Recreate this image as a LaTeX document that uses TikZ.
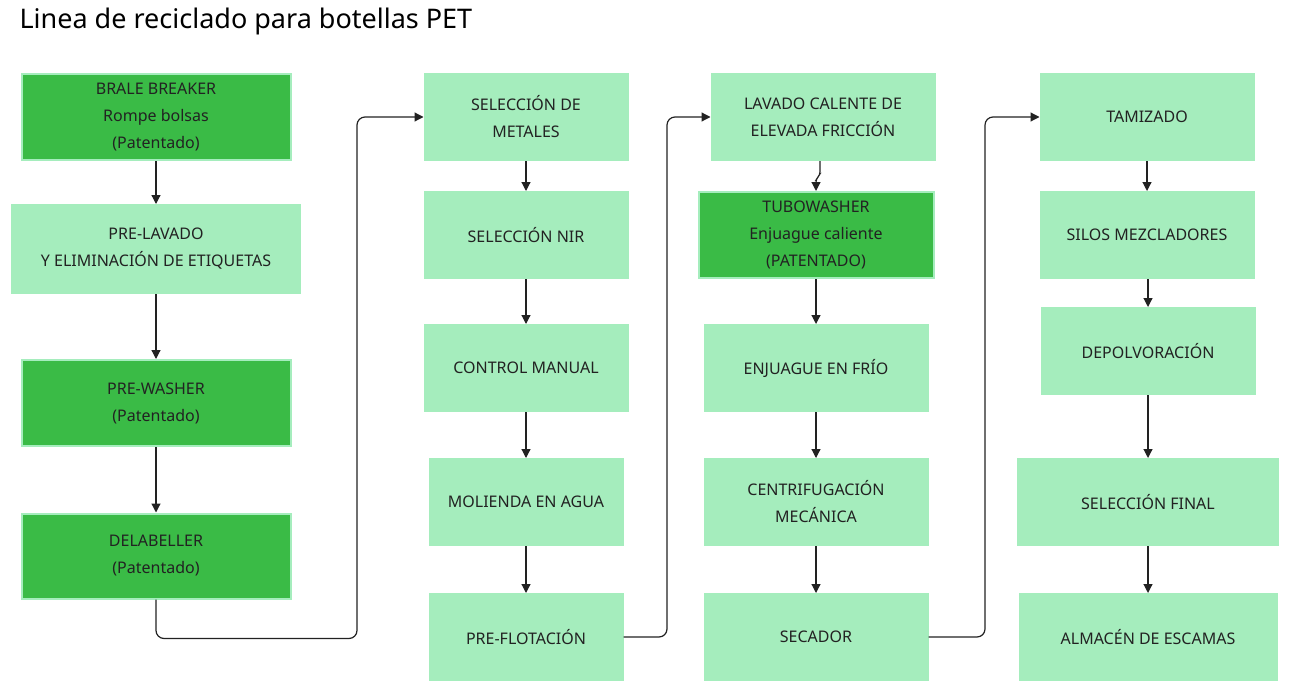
\documentclass[tikz,border=0pt]{standalone}
\usepackage{fontspec}
\setmainfont{Noto Sans}
\usetikzlibrary{positioning,arrows.meta}
\definecolor{lightg}{HTML}{A5EDBD}
\definecolor{darkg}{HTML}{3ABB46}
\definecolor{txt}{HTML}{222222}
\begin{document}
\begin{tikzpicture}[x=1pt,y=-1pt,
		light/.style={draw=lightg,fill=lightg,line width=2pt,inner sep=0pt,align=center,text=txt,font=\fontsize{16}{27}\selectfont},
		dark/.style={light,fill=darkg},
		link/.style={draw=txt,line width=1.2pt,-{Triangle[length=9pt,width=9pt]},rounded corners=8pt}]
	\useasboundingbox (0,0) rectangle (1290,690);
	\node[anchor=north west,font=\bfseries\fontsize{27}{30}\selectfont,text=black] (title) at (16,4) {Linea de reciclado para botellas PET};
	% columna 1
	\node[dark,minimum width=269pt,minimum height=86pt]	(brale)	at (156,117) {BRALE BREAKER\\Rompe bolsas\\(Patentado)};
	\node[light,minimum width=288pt,minimum height=88pt]	(prelav)	at (156,249) {PRE-LAVADO\\Y ELIMINACIÓN DE ETIQUETAS};
	\node[dark,minimum width=269pt,minimum height=86pt]	(prewash)	at (156,403) {PRE-WASHER\\(Patentado)};
	\node[dark,minimum width=269pt,minimum height=85pt]	(delab)	at (156,556) {DELABELLER\\(Patentado)};
	% columna 2
	\node[light,minimum width=203pt,minimum height=86pt]	(metal)	at (526,117) {SELECCIÓN DE\\METALES};
	\node[light,minimum width=203pt,minimum height=86pt]	(nir)	at (526,235) {SELECCIÓN NIR};
	\node[light,minimum width=203pt,minimum height=86pt]	(manual)	at (526,368) {CONTROL MANUAL};
	\node[light,minimum width=193pt,minimum height=86pt]	(molienda)	at (526,502) {MOLIENDA EN AGUA};
	\node[light,minimum width=193pt,minimum height=86pt]	(preflot)	at (526,637) {PRE-FLOTACIÓN};
	% columna 3
	\node[light,minimum width=223pt,minimum height=86pt]	(lavado)	at (823,117) {LAVADO CALENTE DE\\ELEVADA FRICCIÓN};
	\node[dark,minimum width=235pt,minimum height=86pt]	(tubo)	at (816,235) {TUBOWASHER\\Enjuague caliente\\(PATENTADO)};
	\node[light,minimum width=223pt,minimum height=86pt]	(enjuague)	at (816,368) {ENJUAGUE EN FRÍO};
	\node[light,minimum width=223pt,minimum height=86pt]	(centri)	at (816,502) {CENTRIFUGACIÓN\\MECÁNICA};
	\node[light,minimum width=223pt,minimum height=86pt]	(secador)	at (816,637) {SECADOR};
	% columna 4
	\node[light,minimum width=213pt,minimum height=86pt]	(tamiz)	at (1147,117) {TAMIZADO};
	\node[light,minimum width=213pt,minimum height=86pt]	(silos)	at (1147,235) {SILOS MEZCLADORES};
	\node[light,minimum width=213pt,minimum height=86pt]	(depolv)	at (1148,351) {DEPOLVORACIÓN};
	\node[light,minimum width=260pt,minimum height=86pt]	(final)	at (1148,502) {SELECCIÓN FINAL};
	\node[light,minimum width=257pt,minimum height=86pt]	(almacen)	at (1148,637) {ALMACÉN DE ESCAMAS};

	\draw[link] (brale) -- (prelav);
	\draw[link] (prelav) -- (prewash);
	\draw[link] (prewash) -- (delab);
	\draw[link] (delab.south) -- ++(0,39) -| (357,117) -- (metal.west);
	\draw[link] (metal) -- (nir);
	\draw[link] (nir) -- (manual);
	\draw[link] (manual) -- (molienda);
	\draw[link] (molienda) -- (preflot);
	\draw[link] (preflot.east) -| (667,117) -- (lavado.west);
	\draw[link,rounded corners=3pt] (lavado.south -| 820,0) -- ++(0,14) -- ++(-4,4) -- (tubo.north);
	\draw[link] (tubo) -- (enjuague);
	\draw[link] (enjuague) -- (centri);
	\draw[link] (centri) -- (secador);
	\draw[link] (secador.east) -| (985,117) -- (tamiz.west);
	\draw[link] (tamiz) -- (silos);
	\draw[link] (silos.south -| depolv.north) -- (depolv);
	\draw[link] (depolv) -- (final);
	\draw[link] (final) -- (almacen);
\end{tikzpicture}
\end{document}
